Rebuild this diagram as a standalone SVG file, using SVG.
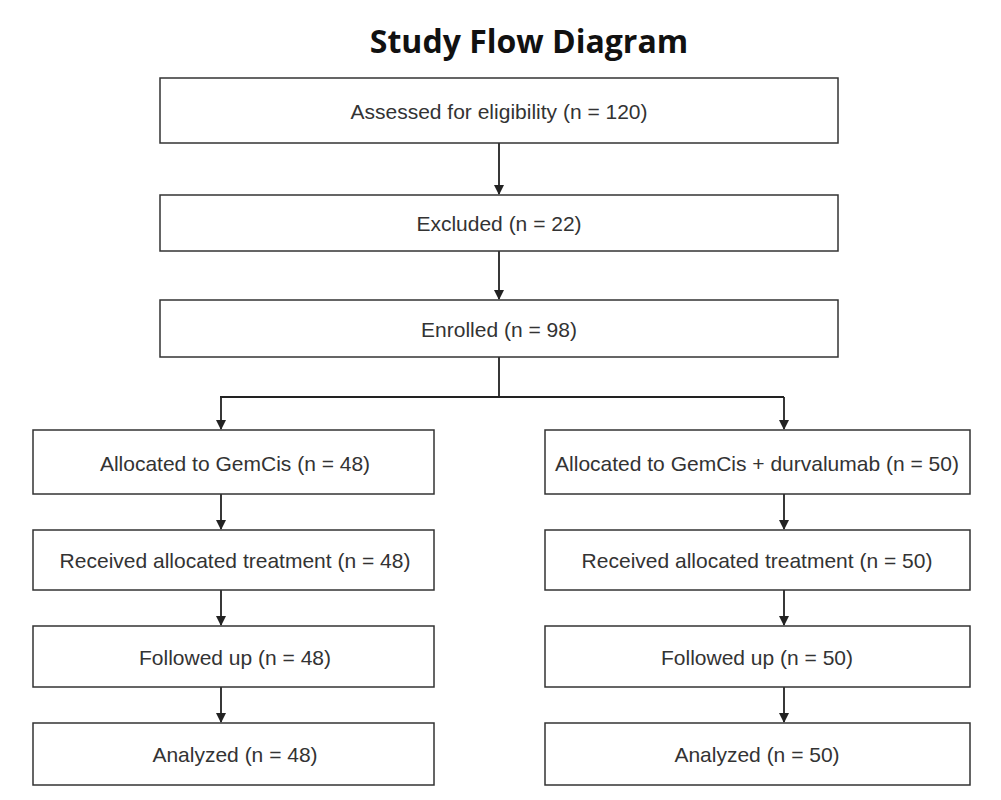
<svg xmlns="http://www.w3.org/2000/svg" width="1001" height="800" viewBox="0 0 1001 800">
<defs>
<style>
.b{fill:#fff;stroke:#333;stroke-width:1.5}
.t{font-family:"Liberation Sans",Arial,sans-serif;font-size:21px;fill:#333;text-anchor:middle;dominant-baseline:central}
.c{stroke:#222;stroke-width:1.8;fill:none}
</style>
<marker id="a" markerWidth="10" markerHeight="10" refX="9" refY="5" orient="auto" markerUnits="userSpaceOnUse"><path d="M0,0 L10,5 L0,10 Z" fill="#222"/></marker>
</defs>
<rect width="1001" height="800" fill="#fff"/>
<text x="529" y="40" font-family="'Open Sans',sans-serif" font-weight="bold" font-size="32" text-anchor="middle" dominant-baseline="central" fill="#111">Study Flow Diagram</text>
<g id="connectors">
<path class="c" d="M499,143 V194" marker-end="url(#a)"/>
<path class="c" d="M499,251 V299" marker-end="url(#a)"/>
<path class="c" d="M499,357 V397 M220,397 H784"/>
<path class="c" d="M221,397 V429" marker-end="url(#a)"/>
<path class="c" d="M784,397 V429" marker-end="url(#a)"/>
<path class="c" d="M221,494 V529" marker-end="url(#a)"/>
<path class="c" d="M221,590 V625" marker-end="url(#a)"/>
<path class="c" d="M221,687 V722" marker-end="url(#a)"/>
<path class="c" d="M784,494 V529" marker-end="url(#a)"/>
<path class="c" d="M784,590 V625" marker-end="url(#a)"/>
<path class="c" d="M784,687 V722" marker-end="url(#a)"/>
</g>
<g id="n1"><rect class="b" x="160" y="78" width="678" height="65"/><text class="t" x="499" y="111">Assessed for eligibility (n = 120)</text></g>
<g id="n2"><rect class="b" x="160" y="195" width="678" height="56"/><text class="t" x="499" y="223">Excluded (n = 22)</text></g>
<g id="n3"><rect class="b" x="160" y="300" width="678" height="57"/><text class="t" x="499" y="329">Enrolled (n = 98)</text></g>
<g id="l1"><rect class="b" x="33" y="430" width="401" height="64"/><text class="t" x="235" y="463">Allocated to GemCis (n = 48)</text></g>
<g id="l2"><rect class="b" x="33" y="530" width="401" height="60"/><text class="t" x="235" y="560">Received allocated treatment (n = 48)</text></g>
<g id="l3"><rect class="b" x="33" y="626" width="401" height="61"/><text class="t" x="235" y="657">Followed up (n = 48)</text></g>
<g id="l4"><rect class="b" x="33" y="723" width="401" height="62"/><text class="t" x="235" y="754">Analyzed (n = 48)</text></g>
<g id="r1"><rect class="b" x="545" y="430" width="425" height="64"/><text class="t" x="757" y="463">Allocated to GemCis + durvalumab (n = 50)</text></g>
<g id="r2"><rect class="b" x="545" y="530" width="425" height="60"/><text class="t" x="757" y="560">Received allocated treatment (n = 50)</text></g>
<g id="r3"><rect class="b" x="545" y="626" width="425" height="61"/><text class="t" x="757" y="657">Followed up (n = 50)</text></g>
<g id="r4"><rect class="b" x="545" y="723" width="425" height="62"/><text class="t" x="757" y="754">Analyzed (n = 50)</text></g>
</svg>
